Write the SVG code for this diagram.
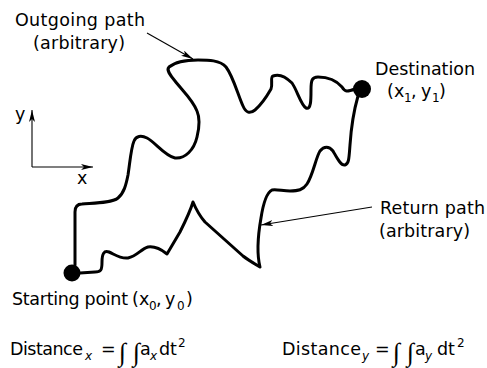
<svg xmlns="http://www.w3.org/2000/svg" width="487" height="368" viewBox="0 0 487 368">
<style>
  .lbl { font-family: "DejaVu Sans", "Liberation Sans", sans-serif; font-size: 17.5px; fill: #000; }
  .sub { font-family: "DejaVu Sans", "Liberation Sans", sans-serif; font-size: 12px; fill: #000; }
  .it { font-style: italic; }
  .int { font-family: "Liberation Serif", "DejaVu Serif", serif; font-style: italic; font-size: 26px; fill: #000; }
  .path { fill: none; stroke: #000; stroke-width: 3; stroke-linejoin: round; stroke-linecap: round; }
  .thin { fill: none; stroke: #000; stroke-width: 1.1; }
  .dot { fill: #000; }
</style>
<defs>
  <marker id="arr" viewBox="0 0 12 6" refX="12" refY="3" markerWidth="12" markerHeight="6" markerUnits="userSpaceOnUse" orient="auto">
    <path d="M0,0 L12,3 L0,6 L3,3 Z" fill="#000"/>
  </marker>
</defs>
<rect width="487" height="368" fill="#fff"/>

<g id="connectors">
  <path id="outgoing-path" class="path" d="M75,265 L75,212 Q75,204 82,204 C95,203 112,203 118,198 C124,193 126,185 128,175 C130,162 131,148 134,141 C136,136 141,135 147,138 C155,142 165,156 175,158 C185,159 194,150 197,137 C200,125 200,118 197,111 C193,100 182,90 175,81 C170,75 166,70 169,67 C175,62 188,60 198,60 C208,60 220,60 226,67 C233,76 238,95 243,106 C246,113 250,114 255,110 C262,104 267,96 271,89 C273,84 270,77 273,76 C278,74 285,76 292,83 C297,90 301,105 306,108 C311,110 311,100 311,90 C311,80 312,77 318,77 C328,77 336,80 342,87 C345,92 347,92 355,89"/>
  <path id="return-path" class="path" d="M358,96 C354,110 351,130 350,145 C349,158 349,164 345,165 C341,166 337,158 333,151 C329,146 324,146 320,151 C316,157 313,175 307,184 C303,190 298,191 290,191 C283,191 276,189 272,190 C266,193 263,205 261,218 C258,235 257,255 260,267 C255,264 248,260 243,256 L205,222 Q198,214 193,202 Q190,212 180,232 L167,254 C162,250 155,246 148,247 C141,249 137,256 128,258 C120,259 114,254 109,252 C104,250 102,254 102,262 C102,270 101,272 95,272 L80,273"/>
  <line class="thin" x1="147" y1="33" x2="193" y2="59" marker-end="url(#arr)"/>
  <line class="thin" x1="372" y1="207" x2="261" y2="225" marker-end="url(#arr)"/>
  <line class="thin" x1="32" y1="167" x2="32" y2="110" marker-end="url(#arr)"/>
  <line class="thin" x1="32" y1="167" x2="93" y2="167" marker-end="url(#arr)"/>
</g>

<g id="start">
  <circle class="dot" cx="72" cy="273" r="8.5"/>
  <text class="lbl" x="12" y="305" textLength="116">Starting point</text>
  <text class="lbl" x="132" y="305">(</text>
  <text class="lbl" x="139" y="305">x</text>
  <text class="sub" x="149" y="310">0</text>
  <text class="lbl" x="156" y="305">,</text>
  <text class="lbl" x="165" y="305">y</text>
  <text class="sub" x="177" y="310">0</text>
  <text class="lbl" x="186" y="305">)</text>
</g>

<g id="destination">
  <circle class="dot" cx="362" cy="89" r="9"/>
  <text class="lbl" x="375" y="75" textLength="100">Destination</text>
  <text class="lbl" x="387" y="97">(</text>
  <text class="lbl" x="394" y="97">x</text>
  <text class="sub" x="404" y="102">1</text>
  <text class="lbl" x="411" y="97">,</text>
  <text class="lbl" x="421" y="97">y</text>
  <text class="sub" x="432" y="102">1</text>
  <text class="lbl" x="439" y="97">)</text>
</g>

<g id="outgoing-label">
  <text class="lbl" x="15" y="26" textLength="130">Outgoing path</text>
  <text class="lbl" x="33" y="49" textLength="92">(arbitrary)</text>
</g>

<g id="return-label">
  <text class="lbl" x="380" y="214" textLength="105">Return path</text>
  <text class="lbl" x="379" y="237" textLength="91">(arbitrary)</text>
</g>

<g id="axes-labels">
  <text class="lbl" x="15" y="120">y</text>
  <text class="lbl" x="77" y="184">x</text>
</g>

<g id="formula-x">
  <text class="lbl" x="10" y="355" textLength="73">Distance</text>
  <text class="sub it" x="85" y="360">x</text>
  <text class="lbl" x="101" y="355" textLength="13">=</text>
  <text class="int" x="119" y="361" textLength="21">∫∫</text>
  <text class="lbl" x="140" y="355">a</text>
  <text class="sub it" x="150" y="360">x</text>
  <text class="lbl" x="159" y="355">dt</text>
  <text class="sub" x="178" y="347">2</text>
</g>

<g id="formula-y">
  <text class="lbl" x="282" y="355" textLength="79">Distance</text>
  <text class="sub it" x="362" y="360">y</text>
  <text class="lbl" x="375" y="355" textLength="13">=</text>
  <text class="int" x="393" y="361" textLength="21">∫∫</text>
  <text class="lbl" x="415" y="355">a</text>
  <text class="sub it" x="425" y="360">y</text>
  <text class="lbl" x="437" y="355">dt</text>
  <text class="sub" x="457" y="347">2</text>
</g>
</svg>
